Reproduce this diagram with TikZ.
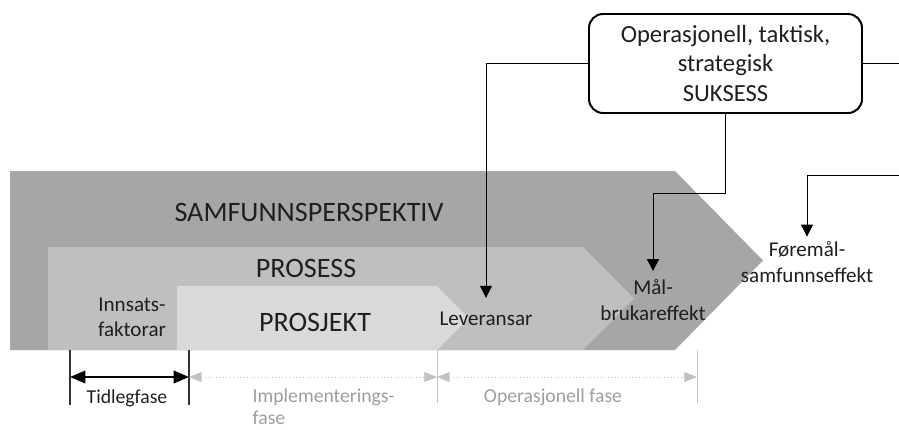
\documentclass[tikz,border=0pt]{standalone}
\usepackage{fontspec}
\setmainfont{Carlito}
\usetikzlibrary{arrows.meta}

\definecolor{outergray}{gray}{0.65}
\definecolor{midgray}{gray}{0.75}
\definecolor{innergray}{gray}{0.85}
\definecolor{dimline}{gray}{0.76}
\definecolor{dimtext}{gray}{0.62}
\definecolor{inktext}{gray}{0.12}

\begin{document}
\begin{tikzpicture}[x=0.025cm, y=-0.025cm,
        bigtext/.style={font=\fontsize{20}{24}\selectfont, text=inktext},
        smalltext/.style={font=\fontsize{15}{18}\selectfont, text=inktext, align=center, inner sep=1pt},
        dimtextstyle/.style={font=\fontsize{14}{15.5}\selectfont, inner sep=1pt},
        pointer/.style={line width=0.7, color=black, arrows={-Triangle[width=8.5pt, length=8.5pt]}},
        blackdim/.style={line width=1.4, color=black, arrows={Triangle[width=9pt, length=11pt]-Triangle[width=9pt, length=11pt]}},
        graydim/.style={line width=0.5, color=dimline, dotted, arrows={Triangle[width=7pt, length=9pt]-Triangle[width=7pt, length=9pt]}}]
        \useasboundingbox (0, 0) rectangle (899, 429);

        % Chevrons:
        \fill[color=outergray] (10, 171) -- (675, 171) -- (763, 260.5) -- (675, 350) -- (10, 350) -- cycle;
        \fill[color=midgray] (48, 247) -- (583, 247) -- (634, 298.5) -- (583, 350) -- (48, 350) -- cycle;
        \fill[color=innergray] (177, 286) -- (437, 286) -- (469, 318) -- (437, 350) -- (177, 350) -- cycle;

        % Labels in chevrons:
        \node[bigtext] (samf) at (309, 212) {SAMFUNNSPERSPEKTIV};
        \node[bigtext] (prosess) at (306, 268) {PROSESS};
        \node[bigtext] (prosjekt) at (315, 322) {PROSJEKT};
        \node[smalltext] (innsats) at (132, 317.5) {Innsats-\\faktorar};
        \node[smalltext] (leveransar) at (486, 319) {Leveransar};
        \node[smalltext] (maal) at (653, 300) {Mål-\\brukareffekt};
        \node[smalltext] (foremaal) at (807, 262) {Føremål-\\samfunnseffekt};

        % Success box:
        \node[draw, line width=1.4, rounded corners=10pt, minimum width=273*0.025cm, minimum height=99*0.025cm,
              align=center, text=inktext, font=\fontsize{17.5}{21.3}\selectfont] (suksess) at (725.5, 63.5)
              {Operasjonell, taktisk,\\strategisk\\SUKSESS};
        \coordinate (rimtop) at (899, 63.5);
        \coordinate (rimmid) at (899, 175);

        % Pointers:
        \draw[pointer, shorten >=9pt] (suksess.west) -| (leveransar.north);
        \draw[pointer, shorten >=5pt] (suksess.south) -- ++(0, 80) -| (maal.north);
        \draw[line width=0.7, color=black] (suksess.east) -- (rimtop);
        \draw[pointer, shorten >=2.5pt] (rimmid) -| (foremaal.north);

        % Phase ticks:
        \foreach \name/\x in {d1/70, d2/189, d3/437, d4/697} {
            \coordinate (\name) at (\x, 350);
            \coordinate (\name a) at (\x, 377);
        }
        \foreach \name in {d1, d2}
            \draw[line width=1, color=black!80] (\name) -- ++(0, 55);
        \foreach \name in {d3, d4}
            \draw[line width=0.7, color=dimline] (\name) -- ++(0, 53);

        % Phase arrows:
        \draw[blackdim] (d1a) -- (d2a);
        \draw[graydim] (d2a) -- (d3a);
        \draw[graydim] (d3a) -- (d4a);

        % Phase labels:
        \node[dimtextstyle, text=inktext] (tidleg) at (127, 398) {Tidlegfase};
        \node[dimtextstyle, text=dimtext, align=left, anchor=west] (impl) at (251, 407) {Implementerings-\\fase};
        \node[dimtextstyle, text=dimtext] (opfase) at (553, 397) {Operasjonell fase};
    \end{tikzpicture}
\end{document}
